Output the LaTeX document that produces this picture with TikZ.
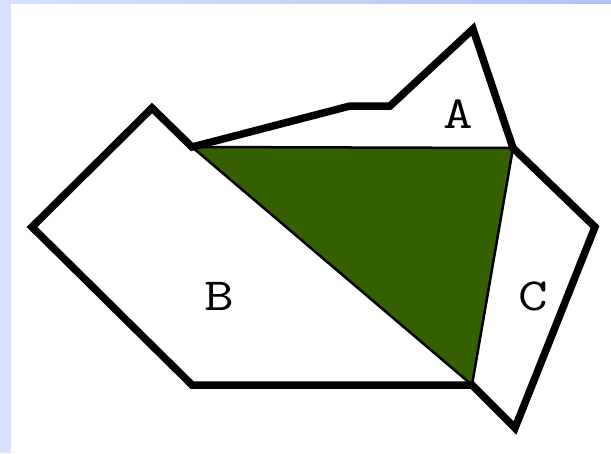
\documentclass[tikz,border=0pt]{standalone}
\definecolor{leafgreen}{RGB}{52,96,0}
\definecolor{paleblue}{RGB}{214,226,252}
\definecolor{midblue}{RGB}{176,196,244}
\newcommand{\widelabel}[1]{\scalebox{1.25}[1]{#1}}
\tikzset{
  outline/.style={line width=7.5pt, line join=miter, draw=black},
  inner/.style={line width=2.5pt, draw=black, fill=leafgreen, line join=miter},
  region/.style={font=\ttfamily\fontsize{46}{46}\selectfont, inner sep=0pt}
}
\begin{document}
\begin{tikzpicture}[x=1pt,y=-1pt]
\useasboundingbox (0,0) rectangle (611,453);
\fill[white] (0,0) rectangle (611,453);
\fill[paleblue] (0,0) rectangle (11,453);
\shade[left color=paleblue, right color=midblue] (0,0) rectangle (611,3);
% vertices
\coordinate (tl) at (192,147);
\coordinate (tr) at (513,148);
\coordinate (bt) at (472,385);
\coordinate (bl) at (192,385);
\coordinate (lf) at (32,227);
\coordinate (tp) at (152,108);
\coordinate (a1) at (350,106);
\coordinate (a2) at (390,106);
\coordinate (ap) at (473,29);
\coordinate (cr) at (595,227);
\coordinate (cb) at (515,428);
% green triangle
\path[inner] (tl) -- (tr) -- (bt) -- cycle;
% outer outline
\path[outline] (bt) -- (bl) -- (lf) -- (tp) -- (tl) -- (a1) -- (a2) -- (ap) -- (tr) -- (cr) -- (cb) -- cycle;
% labels
\node[region] (la) at (458,114) {\widelabel{A}};
\node[region] (lb) at (219,296) {\widelabel{B}};
\node[region] (lc) at (533,296) {\widelabel{C}};
\end{tikzpicture}
\end{document}
